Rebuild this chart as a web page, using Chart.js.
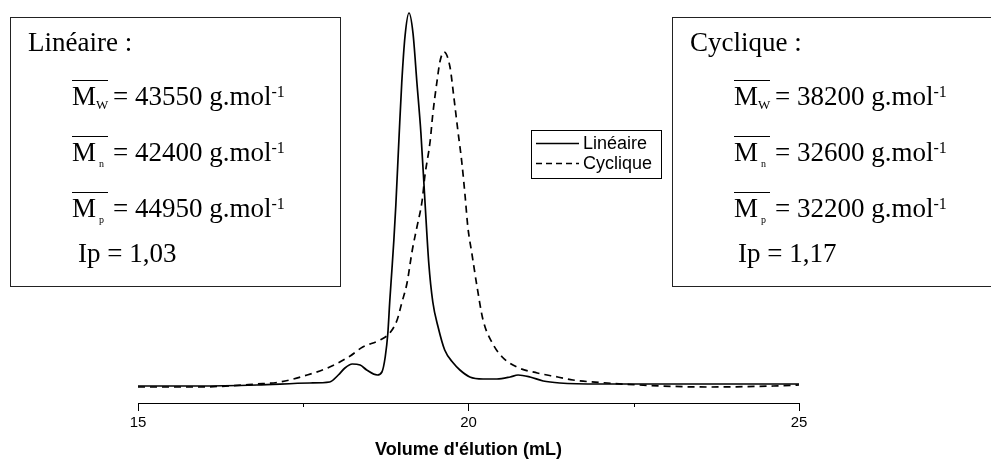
<!DOCTYPE html>
<html>
<head>
<meta charset="utf-8">
<script src="https://cdn.jsdelivr.net/npm/chart.js@4"></script>
<style>
  body { margin: 0; background: #fff; overflow: hidden; }
  #wrap { position: relative; width: 991px; height: 461px; overflow: hidden; }
  .box { position: absolute; top: 17px; height: 270px; border: 1px solid #222; box-sizing: border-box; }
  .t { position: absolute; font: 27px "Liberation Serif", "Times New Roman", serif; line-height: 27px; white-space: pre; color: #000; }
  .m { display: inline-block; width: 41px; }
  .bar { position: absolute; height: 1px; width: 36px; background: #000; }
  sub, sup { line-height: 0; }
</style>
</head>
<body>
<div id="wrap">
  <canvas id="chart" width="991" height="461"></canvas>
</div>
<script>
// elution volume (mL) and detector signal (a.u.)
const linX = [15.0, 15.9, 16.8, 17.6, 17.9, 18.03, 18.13, 18.24, 18.36, 18.46, 18.62, 18.69, 18.74, 18.78, 18.81,
  18.84, 18.87, 18.90, 18.95, 18.99, 19.04, 19.10, 19.16, 19.22, 19.28, 19.34, 19.40, 19.46, 19.54, 19.64, 19.77,
  19.87, 20.02, 20.22, 20.43, 20.63, 20.75, 20.93, 21.13, 21.38, 21.99, 23.5, 25.0];
const linY = [0, 0, 1, 3, 4, 11, 18, 22, 21, 16, 11, 14, 29, 53, 86,
  115, 145, 180, 250, 303, 350, 373, 353, 303, 253, 186, 122, 84, 59, 36, 23,
  16, 9, 7, 7, 9, 11, 9, 5, 3, 2, 2, 2];

const cycX = [15.0, 15.89, 16.8, 17.15, 17.56, 17.9, 18.21, 18.4, 18.66, 18.81, 18.92, 18.99, 19.07, 19.15, 19.22,
  19.30, 19.34, 19.42, 19.46, 19.52, 19.57, 19.63, 19.72, 19.78, 19.84, 19.90, 19.95, 19.99, 20.05, 20.13, 20.22,
  20.36, 20.51, 20.73, 21.04, 21.35, 21.58, 22.10, 22.59, 23.61, 24.61, 25.0];
const cycY = [-1, -1, 2, 4, 11, 19, 30, 39, 46, 53, 66, 83, 103, 136, 159,
  186, 210, 245, 272, 303, 325, 334, 319, 288, 255, 223, 189, 159, 133, 99, 66,
  43, 29, 19, 13, 9, 6, 3, 1, -1, 0, 1];

const seriesNames = ["Linéaire", "Cyclique"];
const majorTicks = [15, 20, 25];
const minorTicks = [17.5, 22.5];

// molar masses shown in the two boxes
const massSubs = ["W", "n", "p"];
const linMasses = [43550, 42400, 44950];
const cycMasses = [38200, 32600, 32200];
const ipValues = ["1,03", "1,17"];

const toPoints = (xs, ys) => xs.map((x, i) => ({ x: x, y: ys[i] }));

const minorTickPlugin = {
  id: "minorTicks",
  afterDraw(chart) {
    const sx = chart.scales.x, ctx = chart.ctx;
    ctx.save();
    ctx.strokeStyle = "#000";
    ctx.lineWidth = 1;
    minorTicks.forEach(v => {
      const px = Math.round(sx.getPixelForValue(v)) + 0.5;
      ctx.beginPath();
      ctx.moveTo(px, sx.top);
      ctx.lineTo(px, sx.top + 4);
      ctx.stroke();
    });
    ctx.restore();
  }
};

// boxed legend in the middle of the plot
const legendBoxPlugin = {
  id: "legendBox",
  afterDraw(chart) {
    const ctx = chart.ctx;
    ctx.save();
    ctx.strokeStyle = "#000";
    ctx.lineWidth = 1;
    ctx.strokeRect(531.5, 130.5, 130, 48);
    chart.data.datasets.forEach((ds, i) => {
      const y = 143.5 + i * 20;
      ctx.setLineDash(ds.borderDash ? [6, 4] : []);
      ctx.lineWidth = 1.6;
      ctx.beginPath();
      ctx.moveTo(536, y);
      ctx.lineTo(579, y);
      ctx.stroke();
      ctx.setLineDash([]);
      ctx.fillStyle = "#000";
      ctx.font = '18px "Liberation Sans", Arial, sans-serif';
      ctx.textBaseline = "middle";
      ctx.fillText(ds.label, 583, y + 1);
    });
    ctx.restore();
  }
};

new Chart(document.getElementById("chart"), {
  type: "line",
  data: {
    datasets: [{
      label: seriesNames[0],
      data: toPoints(linX, linY),
      borderColor: "#000",
      borderWidth: 1.7,
      pointRadius: 0,
      cubicInterpolationMode: "monotone",
      fill: false
    }, {
      label: seriesNames[1],
      data: toPoints(cycX, cycY),
      borderColor: "#000",
      borderWidth: 1.7,
      borderDash: [7, 5],
      pointRadius: 0,
      cubicInterpolationMode: "monotone",
      fill: false
    }]
  },
  options: {
    responsive: false,
    devicePixelRatio: 1,
    animation: false,
    layout: { padding: { left: 138, right: 192, top: 6, bottom: 0 } },
    plugins: { legend: { display: false }, tooltip: { enabled: false } },
    scales: {
      x: {
        type: "linear",
        min: 15,
        max: 25,
        afterFit: scale => { scale.height = 58; },
        afterBuildTicks: scale => { scale.ticks = majorTicks.map(v => ({ value: v })); },
        border: { display: true, color: "#000", width: 1 },
        grid: { drawOnChartArea: false, drawTicks: true, tickLength: 8, tickColor: "#000", color: "#000" },
        ticks: { color: "#000", padding: 3, maxRotation: 0, font: { family: '"Liberation Sans", Arial, sans-serif', size: 15 } },
        title: {
          display: true,
          text: "Volume d'élution (mL)",
          color: "#000",
          padding: { top: 0, bottom: 0 },
          font: { family: '"Liberation Sans", Arial, sans-serif', size: 18, weight: "bold" }
        }
      },
      y: { display: false, min: -17, max: 380 }
    }
  },
  plugins: [minorTickPlugin, legendBoxPlugin]
});

// text boxes with the molar mass results
function makeBox(left, width, title, masses, ip) {
  const wrap = document.getElementById("wrap");
  const box = document.createElement("div");
  box.className = "box";
  box.style.left = left + "px";
  box.style.width = width + "px";
  wrap.appendChild(box);

  const line = (x, baseline, html) => {
    const d = document.createElement("div");
    d.className = "t";
    d.style.left = x + "px";
    d.style.top = (baseline - 22.6) + "px";
    d.innerHTML = html;
    box.appendChild(d);
  };

  line(17, 34, title + " :");
  masses.forEach((m, i) => {
    const base = 88 + i * 56;
    const s = massSubs[i];
    const sub = s === "W"
      ? '<sub style="font-size:13px;vertical-align:-4px">' + s + "</sub>"
      : '<sub style="font-size:10px;vertical-align:-6px;margin-left:3px">' + s + "</sub>";
    line(61, base, '<span class="m">M' + sub + "</span>= " + m + ' g.mol<sup style="font-size:16px;vertical-align:8px">-1</sup>');
    const bar = document.createElement("div");
    bar.className = "bar";
    bar.style.left = "61px";
    bar.style.top = (base - 26) + "px";
    box.appendChild(bar);
  });
  line(left < 100 ? 67 : 65, 245, "Ip = " + ip);
}

makeBox(10, 331, seriesNames[0], linMasses, ipValues[0]);
makeBox(672, 400, seriesNames[1], cycMasses, ipValues[1]);
</script>
</body>
</html>
